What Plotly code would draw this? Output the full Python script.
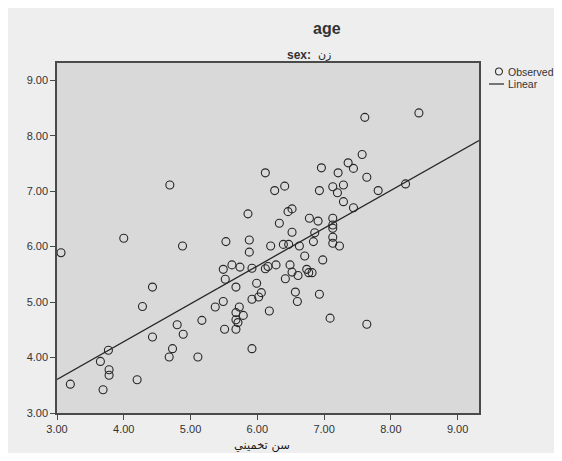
import numpy as np
import plotly.graph_objects as go

x_obs = [3.06, 3.20, 3.65, 3.69, 3.77, 3.78, 3.78, 4.00, 4.20, 4.28,
         4.43, 4.43, 4.68, 4.69, 4.73, 4.80, 4.88, 4.89, 5.11, 5.17,
         5.37, 5.49, 5.49, 5.51, 5.52, 5.53, 5.62, 5.68, 5.68, 5.68,
         5.68, 5.71, 5.73, 5.74, 5.79, 5.86, 5.88, 5.88, 5.92, 5.92,
         5.92, 5.99, 6.02, 6.06, 6.12, 6.12, 6.16, 6.18, 6.20, 6.26,
         6.28, 6.33, 6.39, 6.41, 6.42, 6.46, 6.47, 6.49, 6.52, 6.52,
         6.52, 6.57, 6.60, 6.61, 6.63, 6.71, 6.74, 6.77, 6.82, 6.78,
         6.84, 6.86, 6.91, 6.93, 6.93, 6.96, 6.98, 7.09, 7.13, 7.13,
         7.13, 7.13, 7.13, 7.13, 7.20, 7.21, 7.23, 7.29, 7.29, 7.36,
         7.44, 7.44, 7.57, 7.61, 7.64, 7.64, 7.81, 8.22, 8.42]
y_obs = [5.89, 3.52, 3.93, 3.42, 4.13, 3.78, 3.68, 6.15, 3.60, 4.92,
         5.27, 4.37, 4.01, 7.11, 4.16, 4.59, 6.01, 4.42, 4.01, 4.67,
         4.91, 5.59, 5.01, 4.51, 5.41, 6.09, 5.67, 5.27, 4.81, 4.68,
         4.51, 4.63, 4.91, 5.63, 4.76, 6.59, 6.12, 5.90, 5.61, 5.05,
         4.16, 5.34, 5.09, 5.17, 7.33, 5.60, 5.64, 4.84, 6.01, 7.01,
         5.67, 6.42, 6.04, 7.09, 5.42, 6.63, 6.04, 5.67, 6.68, 6.26,
         5.54, 5.18, 5.01, 5.48, 6.01, 5.83, 5.59, 5.53, 5.53, 6.51,
         6.09, 6.25, 6.46, 7.01, 5.14, 7.42, 5.76, 4.71, 7.08, 6.51,
         6.39, 6.33, 6.17, 6.06, 6.97, 7.33, 6.01, 7.11, 6.81, 7.51,
         7.41, 6.70, 7.66, 8.33, 7.25, 4.60, 7.01, 7.13, 8.41]

x_range = [3.0, 9.32]
y_range = [3.0, 9.31]
tick_vals = [3, 4, 5, 6, 7, 8, 9]
tick_text = ["3.00", "4.00", "5.00", "6.00", "7.00", "8.00", "9.00"]

title_text = "age"
subtitle_label = "sex:"
subtitle_value = "زن"
x_title = "سن تخميني"
legend_labels = ["Observed", "Linear"]

# Linear fit from the observed data
slope, intercept = np.polyfit(x_obs, y_obs, 1)
x_fit = np.array(x_range)
y_fit = intercept + slope * x_fit

FONT = "Liberation Sans, Arial, DejaVu Sans, sans-serif"
AR_FONT = "DejaVu Sans, Noto Sans, sans-serif"
OFF = 8  # page body margin in the browser
W, H = 562 - 2 * OFF, 461 - 2 * OFF
ML, MT = 57 - OFF, 63 - OFF
PW, PH = 422, 350
MR, MB = W - ML - PW, H - MT - PH


def px(xp):
    # xp: pixel x in the 562-wide window
    return (xp - OFF - ML) / PW


def py(yp):
    # yp: pixel y in the 461-high window
    return (MT + PH - (yp - OFF)) / PH


fig = go.Figure()
fig.add_trace(go.Scatter(
    x=x_obs, y=y_obs, mode="markers", name=legend_labels[0],
    marker=dict(symbol="circle-open", size=8, color="#262626",
                line=dict(width=1.1, color="#262626")),
    showlegend=False, cliponaxis=False,
))
fig.add_trace(go.Scatter(
    x=x_fit, y=y_fit, mode="lines", name=legend_labels[1],
    line=dict(color="#262626", width=1.3), showlegend=False,
))

axis_common = dict(
    showgrid=False, zeroline=False, showline=True, mirror=True,
    linecolor="#4a4a4a", linewidth=1.5, ticks="outside", ticklen=5,
    tickcolor="#4a4a4a", tickwidth=1.3,
    tickfont=dict(family=FONT, size=11, color="#333333"),
    tickvals=tick_vals, ticktext=tick_text,
)


def ann(text, x, y, size, xanchor="center", family=FONT, color="#333333"):
    return dict(text=text, xref="paper", yref="paper", x=px(x), y=py(y),
                xanchor=xanchor, yanchor="middle", showarrow=False,
                font=dict(family=family, size=size, color=color))


annotations = [
    ann("<b>" + title_text + "</b>", 327, 29, 16),
    ann("<b>" + subtitle_label + "</b>", 313, 55, 12, xanchor="right"),
    ann(subtitle_value, 316, 55, 11, xanchor="left", family=AR_FONT,
        color="#222222"),
    ann(x_title, 262, 445, 11.5, family=AR_FONT, color="#1a1a1a"),
    ann(legend_labels[0], 506, 72, 10.5, xanchor="left"),
    ann(legend_labels[1], 506, 84, 10.5, xanchor="left"),
]

shapes = [
    dict(type="circle", xref="paper", yref="paper",
         x0=px(495.5), x1=px(502.5), y0=py(68), y1=py(75),
         line=dict(color="#333333", width=1.1)),
    dict(type="line", xref="paper", yref="paper",
         x0=px(489), x1=px(504), y0=py(84), y1=py(84),
         line=dict(color="#333333", width=1.3)),
]

fig.update_layout(
    width=W, height=H,
    margin=dict(l=ML, r=MR, t=MT, b=MB, pad=0),
    paper_bgcolor="#eeeeee", plot_bgcolor="#d9d9d9",
    xaxis=dict(range=x_range, **axis_common),
    yaxis=dict(range=y_range, **axis_common),
    annotations=annotations, shapes=shapes,
    showlegend=False,
)

fig.write_html("out.html")
